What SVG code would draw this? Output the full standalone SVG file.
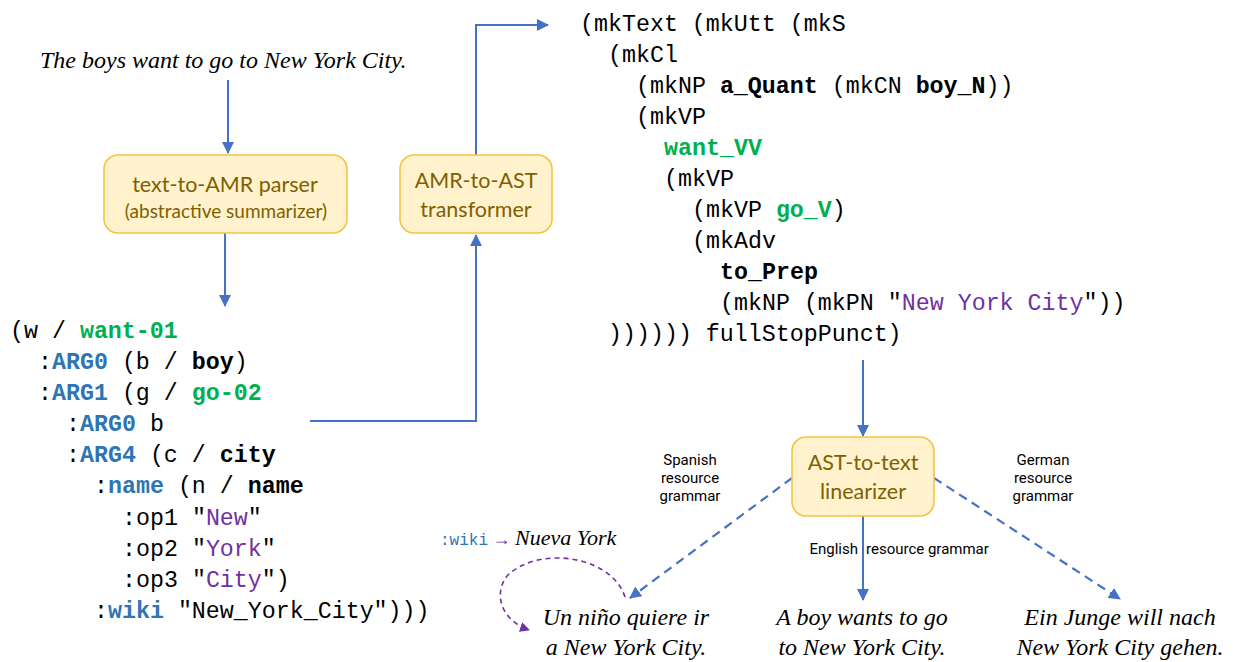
<svg xmlns="http://www.w3.org/2000/svg" width="1233" height="662" viewBox="0 0 1233 662">
<style>
.box{fill:#FFF2CC;stroke:#F5C342;stroke-width:1.6}
.bt{font-family:Lato,"Open Sans","Liberation Sans",sans-serif;fill:#7F6000;text-anchor:middle}
.ln{stroke:#4472C4;stroke-width:2;fill:none}
.dash{stroke:#4472C4;stroke-width:2.2;fill:none;stroke-dasharray:9 6}
.pdash{stroke:#7030A0;stroke-width:1.6;fill:none;stroke-dasharray:5 4}
.mono{font-family:"Liberation Mono","DejaVu Sans Mono",monospace;font-size:23.3px;fill:#000}
.b{font-weight:bold}
.blue{fill:#2E75B6;font-weight:bold}
.grn{fill:#00B050;font-weight:bold}
.pur{fill:#7030A0}
.it{font-family:"Liberation Serif","Times New Roman",serif;font-style:italic;font-size:24px;fill:#000}
.lab{font-family:Roboto,"Liberation Sans",sans-serif;font-size:15px;fill:#000;text-anchor:middle}
</style>
<defs>
<marker id="ah" markerWidth="12" markerHeight="12" refX="11" refY="6" orient="auto" markerUnits="userSpaceOnUse">
<path d="M0,0 L12,6 L0,12 Z" fill="#4472C4"/>
</marker>
<marker id="ahp" markerWidth="10" markerHeight="10" refX="9" refY="5" orient="auto" markerUnits="userSpaceOnUse">
<path d="M0,0 L10,5 L0,10 Z" fill="#7030A0"/>
</marker>
</defs>

<g id="connectors">
<path class="ln" d="M228,80 V153" marker-end="url(#ah)"/>
<path class="ln" d="M225,233 V306" marker-end="url(#ah)"/>
<path class="ln" d="M310,421 H476 V235" marker-end="url(#ah)"/>
<path class="ln" d="M476,155 V25 H548" marker-end="url(#ah)"/>
<path class="ln" d="M863,360 V436" marker-end="url(#ah)"/>
<path class="dash" d="M792,478 L630,598" marker-end="url(#ah)"/>
<path class="ln" d="M863,516 V600" marker-end="url(#ah)"/>
<path class="dash" d="M934,478 L1120,599" marker-end="url(#ah)"/>
<path class="pdash" d="M625,597 C612,556 540,545 508,575 C493,592 500,620 529,630" marker-end="url(#ahp)"/>
</g>

<g id="input-sentence">
<text class="it" x="40" y="68">The boys want to go to New York City.</text>
</g>

<g id="parser">
<rect class="box" x="104" y="155" width="243" height="78" rx="14"/>
<text class="bt" x="225" y="192" font-size="21.5">text-to-AMR parser</text>
<text class="bt" x="226" y="218" font-size="19">(abstractive summarizer)</text>
</g>

<g id="transformer">
<rect class="box" x="400" y="155" width="152" height="78" rx="14"/>
<text class="bt" x="476" y="188" font-size="21.5">AMR-to-AST</text>
<text class="bt" x="476" y="217" font-size="21.5">transformer</text>
</g>

<g id="linearizer">
<rect class="box" x="792" y="437" width="142" height="79" rx="14"/>
<text class="bt" x="863" y="470" font-size="21.5">AST-to-text</text>
<text class="bt" x="863" y="499" font-size="21.5">linearizer</text>
</g>

<g id="amr">
<text class="mono" x="10" y="338">(w / <tspan class="grn">want-01</tspan></text>
<text class="mono" x="38" y="369">:<tspan class="blue">ARG0</tspan> (b / <tspan class="b">boy</tspan>)</text>
<text class="mono" x="38" y="400">:<tspan class="blue">ARG1</tspan> (g / <tspan class="grn">go-02</tspan></text>
<text class="mono" x="66" y="431">:<tspan class="blue">ARG0</tspan> b</text>
<text class="mono" x="66" y="462">:<tspan class="blue">ARG4</tspan> (c / <tspan class="b">city</tspan></text>
<text class="mono" x="94" y="493">:<tspan class="blue">name</tspan> (n / <tspan class="b">name</tspan></text>
<text class="mono" x="122" y="525">:op1 "<tspan class="pur">New</tspan>"</text>
<text class="mono" x="122" y="556">:op2 "<tspan class="pur">York</tspan>"</text>
<text class="mono" x="122" y="587">:op3 "<tspan class="pur">City</tspan>")</text>
<text class="mono" x="94" y="618">:<tspan class="blue">wiki</tspan> "New_York_City")))</text>
</g>

<g id="ast">
<text class="mono" x="580" y="31">(mkText (mkUtt (mkS</text>
<text class="mono" x="608" y="62">(mkCl</text>
<text class="mono" x="636" y="93">(mkNP <tspan class="b">a_Quant</tspan> (mkCN <tspan class="b">boy_N</tspan>))</text>
<text class="mono" x="636" y="124">(mkVP</text>
<text class="mono" x="664" y="155"><tspan class="grn">want_VV</tspan></text>
<text class="mono" x="664" y="186">(mkVP</text>
<text class="mono" x="692" y="217">(mkVP <tspan class="grn">go_V</tspan>)</text>
<text class="mono" x="692" y="248">(mkAdv</text>
<text class="mono" x="720" y="279"><tspan class="b">to_Prep</tspan></text>
<text class="mono" x="720" y="310">(mkNP (mkPN "<tspan class="pur">New York City</tspan>"))</text>
<text class="mono" x="608" y="341">)))))) fullStopPunct)</text>
</g>

<g id="labels">
<text class="lab" x="690" y="465">Spanish</text>
<text class="lab" x="690" y="483">resource</text>
<text class="lab" x="690" y="501">grammar</text>
<text class="lab" x="1043" y="465">German</text>
<text class="lab" x="1043" y="483">resource</text>
<text class="lab" x="1043" y="501">grammar</text>
<text class="lab" x="858" y="554" style="text-anchor:end">English</text>
<text class="lab" x="866" y="554" style="text-anchor:start">resource grammar</text>
<text x="440" y="545"><tspan font-family="Liberation Mono,DejaVu Sans Mono,monospace" font-size="16" fill="#2E75B6">:wiki</tspan><tspan font-family="Liberation Serif,serif" font-size="18" fill="#7030A0"> → </tspan><tspan class="it" style="font-size:22px">Nueva York</tspan></text>
</g>

<g id="outputs">
<text class="it" x="626" y="625" text-anchor="middle">Un niño quiere ir</text>
<text class="it" x="626" y="655" text-anchor="middle">a New York City.</text>
<text class="it" x="862" y="625" text-anchor="middle">A boy wants to go</text>
<text class="it" x="862" y="655" text-anchor="middle">to New York City.</text>
<text class="it" x="1120" y="625" text-anchor="middle">Ein Junge will nach</text>
<text class="it" x="1120" y="655" text-anchor="middle">New York City gehen.</text>
</g>
</svg>
